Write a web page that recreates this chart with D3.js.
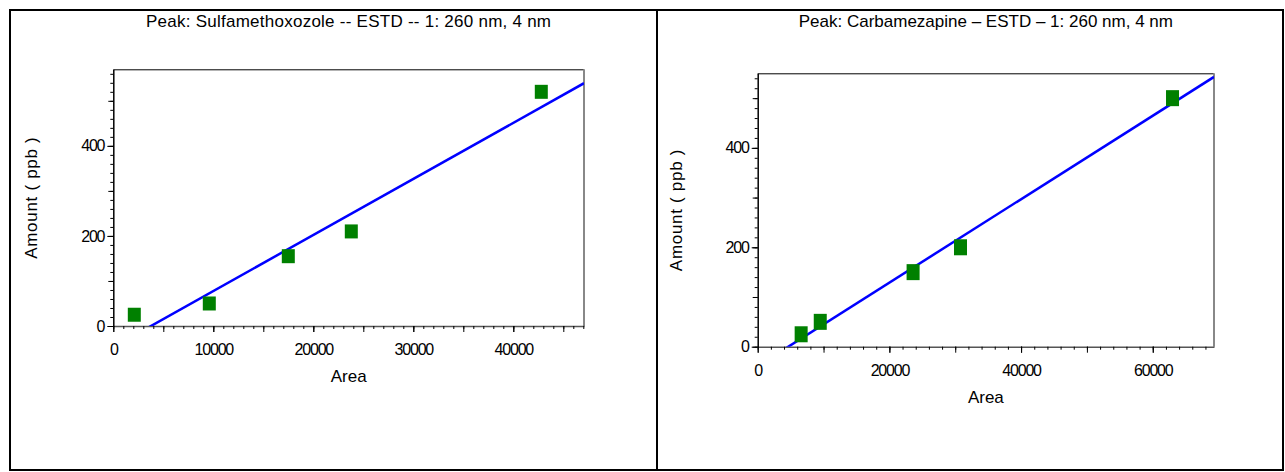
<!DOCTYPE html>
<html>
<head>
<meta charset="utf-8">
<script src="https://cdn.jsdelivr.net/npm/d3@7"></script>
<style>
    body { margin: 0; background: #fff; }
    svg { display: block; font-family: "Liberation Sans", Arial, sans-serif; }
    .tick text { font-size: 16px; letter-spacing: -1.2px; fill: #000; }
</style>
</head>
<body>
<div id="chart"></div>
<script>
// Sulfamethoxazole calibration points (area vs amount)
const sulfaArea = [2100, 9600, 17500, 23800, 42800];
const sulfaAmount = [25, 50, 155, 210, 520];
const sulfaFit = [0.01245, -46.9]; // slope, intercept

// Carbamazepine calibration points
const carbaArea = [6600, 9500, 23600, 30800, 63000];
const carbaAmount = [25, 50, 150, 200, 500];
const carbaFit = [0.008394, -39.0];

const sulfaXTicks = [0, 10000, 20000, 30000, 40000];
const carbaXTicks = [0, 20000, 40000, 60000];
const yTicks = [0, 200, 400];

const width = 1285;
const height = 472;

const svg = d3.select('#chart')
    .append('svg')
    .attr('width', width)
    .attr('height', height);

// outer frame + divider
svg.append('rect')
    .attr('x', 10).attr('y', 10)
    .attr('width', 1273).attr('height', 460)
    .attr('fill', 'none')
    .attr('stroke', '#000')
    .attr('stroke-width', 2);

svg.append('line')
    .attr('x1', 657).attr('x2', 657)
    .attr('y1', 10).attr('y2', 470)
    .attr('stroke', '#000')
    .attr('stroke-width', 2);

function createPanel(cfg) {
    const { id, left, top, right, bottom } = cfg;
    const g = svg.append('g');

    const x = d3.scaleLinear().domain(cfg.xDomain).range([left, right]);
    const y = d3.scaleLinear().domain(cfg.yDomain).range([bottom, top]);

    // title
    g.append('text')
        .attr('x', (left + right) / 2)
        .attr('y', 27)
        .attr('text-anchor', 'middle')
        .style('font-size', '17px')
        .style('letter-spacing', cfg.titleSpacing)
        .text(cfg.title);

    // plot frame: top black, right gray
    g.append('line')
        .attr('x1', left).attr('x2', right)
        .attr('y1', top + 0.5).attr('y2', top + 0.5)
        .attr('stroke', '#000');
    g.append('line')
        .attr('x1', right).attr('x2', right)
        .attr('y1', top).attr('y2', bottom)
        .attr('stroke', '#888')
        .attr('stroke-width', 2);

    // x axis: minor, medium, major ticks
    const xMinor = d3.range(0, cfg.xDomain[1], cfg.xMinor);
    const xMed = d3.range(0, cfg.xDomain[1], cfg.xMed);

    g.append('g')
        .attr('transform', `translate(0,${bottom})`)
        .call(d3.axisBottom(x).tickValues(xMinor).tickSize(3).tickSizeOuter(0).tickFormat(''))
        .call(a => a.select('.domain').attr('stroke', '#555').attr('stroke-width', 1.5));
    g.append('g')
        .attr('transform', `translate(0,${bottom})`)
        .call(d3.axisBottom(x).tickValues(xMed).tickSize(6).tickSizeOuter(0).tickFormat(''))
        .call(a => a.select('.domain').remove());
    g.append('g')
        .attr('transform', `translate(0,${bottom})`)
        .call(d3.axisBottom(x).tickValues(cfg.xTicks).tickSize(6).tickPadding(11.5).tickFormat(d3.format('d')))
        .call(a => a.select('.domain').remove())
        .attr('font-family', null).attr('font-size', null);

    // y axis
    const yMinor = d3.range(0, cfg.yDomain[1], 20);
    const yMed = d3.range(0, cfg.yDomain[1], 100);

    g.append('g')
        .attr('transform', `translate(${left},0)`)
        .call(d3.axisLeft(y).tickValues(yMinor).tickSize(3).tickSizeOuter(0).tickFormat(''))
        .call(a => a.select('.domain').attr('stroke', '#000').attr('stroke-width', 1.5));
    g.append('g')
        .attr('transform', `translate(${left},0)`)
        .call(d3.axisLeft(y).tickValues(yMed).tickSize(5).tickSizeOuter(0).tickFormat(''))
        .call(a => a.select('.domain').remove());
    g.append('g')
        .attr('transform', `translate(${left},0)`)
        .call(d3.axisLeft(y).tickValues(yTicks).tickSize(6).tickPadding(3).tickFormat(d3.format('d')))
        .call(a => a.select('.domain').remove())
        .attr('font-family', null).attr('font-size', null);

    // axis titles
    g.append('text')
        .attr('x', (left + right) / 2)
        .attr('y', bottom + 56)
        .attr('text-anchor', 'middle')
        .style('font-size', '17px')
        .text('Area');

    g.append('text')
        .attr('transform', `translate(${left - 76},${(top + bottom) / 2}) rotate(-90)`)
        .attr('text-anchor', 'middle')
        .style('font-size', '17px')
        .style('letter-spacing', '0.7px')
        .text('Amount ( ppb )');

    // regression line, clipped to plot area
    g.append('clipPath')
        .attr('id', `clip-${id}`)
        .append('rect')
        .attr('x', left).attr('y', top)
        .attr('width', right - left).attr('height', bottom - top);

    const [slope, intercept] = cfg.fit;
    const line = d3.line()
        .x(d => x(d))
        .y(d => y(slope * d + intercept));

    g.append('path')
        .datum(cfg.xDomain)
        .attr('clip-path', `url(#clip-${id})`)
        .attr('d', line)
        .attr('fill', 'none')
        .attr('stroke', '#0000ff')
        .attr('stroke-width', 2.5);

    // calibration points
    const pts = cfg.area.map((a, i) => ({ area: a, amount: cfg.amount[i] }));
    g.append('g')
        .selectAll('rect')
        .data(pts)
        .join('rect')
        .attr('x', d => x(d.area) - cfg.markW / 2)
        .attr('y', d => y(d.amount) - cfg.markH / 2)
        .attr('width', cfg.markW)
        .attr('height', cfg.markH)
        .attr('fill', '#008000');
}

createPanel({
    id: 'sulfa',
    title: 'Peak: Sulfamethoxozole -- ESTD -- 1: 260 nm, 4 nm',
    titleSpacing: '0.25px',
    left: 113.3, top: 69.3, right: 584, bottom: 326,
    xDomain: [0, 47070], yDomain: [0, 570],
    xMinor: 1000, xMed: 5000, xTicks: sulfaXTicks,
    area: sulfaArea, amount: sulfaAmount, fit: sulfaFit,
    markW: 13, markH: 14,
});

createPanel({
    id: 'carba',
    title: 'Peak: Carbamezapine \u2013 ESTD \u2013 1: 260 nm, 4 nm',
    titleSpacing: '0px',
    left: 757.7, top: 73.3, right: 1214, bottom: 346.7,
    xDomain: [0, 69300], yDomain: [0, 550],
    xMinor: 2000, xMed: 10000, xTicks: carbaXTicks,
    area: carbaArea, amount: carbaAmount, fit: carbaFit,
    markW: 13, markH: 16,
});
</script>
</body>
</html>
